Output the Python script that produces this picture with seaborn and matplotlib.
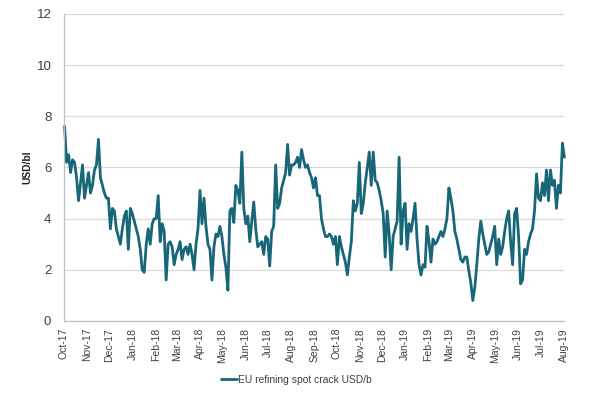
import pandas as pd
import matplotlib
matplotlib.use("Agg")
import matplotlib.pyplot as plt
import matplotlib.dates as mdates
import seaborn as sns

# EU refining spot crack, USD/b (roughly every 2-3 days)
crack_values = [
    # Oct-17 .. Jan-18
    7.6, 6.2, 6.5, 5.8, 6.3, 6.2, 5.6, 4.7, 5.4, 6.1, 4.8, 5.3, 5.8, 5.0,
    5.3, 5.9, 6.1, 7.1, 5.6, 5.3, 5.0, 4.8, 4.8, 3.6, 4.4, 4.3, 3.6, 3.3,
    3.0, 3.6, 4.1, 4.3, 2.8, 4.4, 4.2, 3.9, 3.6, 3.3, 2.8, 2.0, 1.9, 3.0,
    # Jan-18 .. May-18
    3.6, 3.0, 3.8, 4.0, 4.0, 4.9, 3.1, 3.8, 3.5, 1.6, 3.0, 3.1, 2.9, 2.2,
    2.6, 2.8, 3.1, 2.4, 2.8, 2.9, 2.6, 3.0, 2.6, 2.0, 3.0, 3.6, 5.1, 3.8,
    4.8, 3.7, 3.0, 2.8, 1.6, 2.9, 3.4, 3.3, 3.7, 3.3, 2.6, 2.1, 1.2, 4.3,
    # May-18 .. Sep-18
    4.4, 3.85, 5.3, 5.1, 4.6, 6.6, 4.4, 3.8, 4.1, 3.1, 3.9, 4.65, 3.6, 2.9,
    3.0, 3.1, 2.6, 3.3, 3.2, 2.15, 3.5, 3.7, 6.1, 4.4, 4.6, 5.2, 5.5, 5.8,
    6.9, 5.7, 6.1, 6.1, 6.2, 6.4, 6.0, 6.7, 6.3, 6.0, 6.1, 5.8, 5.6, 5.2,
    # Sep-18 .. Dec-18
    5.6, 4.9, 4.9, 4.0, 3.6, 3.3, 3.3, 3.4, 3.3, 3.0, 3.3, 2.2, 3.3, 2.9,
    2.6, 2.3, 1.8, 2.5, 3.1, 4.7, 4.3, 4.6, 6.2, 4.2, 4.6, 5.4, 6.0, 6.6,
    5.3, 6.6, 5.5, 5.4, 5.1, 4.7, 4.2, 2.5, 4.3, 3.4, 2.0, 3.3, 3.6, 3.9,
    # Jan-19 .. Apr-19
    6.4, 3.0, 4.3, 4.6, 2.8, 3.8, 3.5, 4.0, 4.6, 3.2, 2.2, 1.8, 2.2, 2.1,
    3.7, 3.1, 2.3, 3.2, 3.0, 3.1, 3.3, 3.5, 3.3, 3.6, 4.0, 5.2, 4.8, 4.3,
    3.5, 3.2, 2.8, 2.4, 2.3, 2.5, 2.5, 1.96, 1.5, 0.8, 1.3, 2.2, 3.2, 3.9,
    # Apr-19 .. Aug-19
    3.4, 3.0, 2.6, 2.7, 3.0, 3.3, 3.7, 2.2, 3.2, 2.6, 2.9, 3.5, 4.0, 4.3,
    3.1, 2.2, 4.2, 4.4, 3.3, 1.45, 1.6, 2.8, 2.6, 3.1, 3.4, 3.6, 4.3, 5.75,
    4.8, 4.7, 5.4, 4.9, 5.9, 4.7, 5.9, 5.3, 5.5, 4.4, 5.3, 5.0, 6.95, 6.4,
]
start_date = "2017-10-02"
end_date = "2019-08-02"
series_label = "EU refining spot crack USD/b"
last_label = "6.4"

dates = pd.date_range(start_date, end_date, periods=len(crack_values))
df = pd.DataFrame({"date": dates, "crack": crack_values})

line_color = "#176778"
text_color = "#404040"

sns.set_style("white")
plt.rcParams["font.family"] = ["Liberation Sans", "DejaVu Sans"]

fig = plt.figure(figsize=(6.14, 3.98), dpi=100)
ax = fig.add_axes([0.104, 0.1935, 0.814, 0.7715])

sns.lineplot(data=df, x="date", y="crack", ax=ax, color=line_color,
             linewidth=2.0, label=series_label, legend=False)
ax.lines[0].set_clip_on(False)

ax.set_ylim(0, 12)
ax.set_yticks(range(0, 13, 2))
ax.set_xlim(pd.Timestamp("2017-10-01"), pd.Timestamp("2019-08-01"))
ax.xaxis.set_major_locator(mdates.MonthLocator())
ax.xaxis.set_major_formatter(mdates.DateFormatter("%b-%y"))

ax.grid(axis="y", color="#d9d9d9", linewidth=0.9)
ax.set_axisbelow(True)
for side in ("top", "right"):
    ax.spines[side].set_visible(False)
for side in ("left", "bottom"):
    ax.spines[side].set_color("#bfbfbf")
    ax.spines[side].set_linewidth(0.9)

ax.tick_params(axis="y", length=3, width=0.8, color="#bfbfbf", pad=6,
               labelsize=9.5, labelcolor=text_color)
ax.tick_params(axis="x", length=3, width=0.8, color="#bfbfbf", pad=2,
               labelsize=7.5, labelcolor=text_color, rotation=90)

ax.set_xlabel("")
ax.set_ylabel("USD/bl", fontsize=7.4, fontweight="bold", color="#202020", labelpad=3)

ax.annotate(last_label, xy=(df["date"].iloc[-1], df["crack"].iloc[-1]),
            xytext=(5, 1), textcoords="offset points", ha="left", va="bottom",
            fontsize=7.8, fontweight="bold", color=line_color)

handles, labels = ax.get_legend_handles_labels()
fig.legend(handles, labels, loc="center", bbox_to_anchor=(0.483, 0.045),
           frameon=False, fontsize=7.4, handlelength=1.5, handletextpad=0.1,
           labelcolor=text_color)

fig.savefig("out.png", dpi=100)
